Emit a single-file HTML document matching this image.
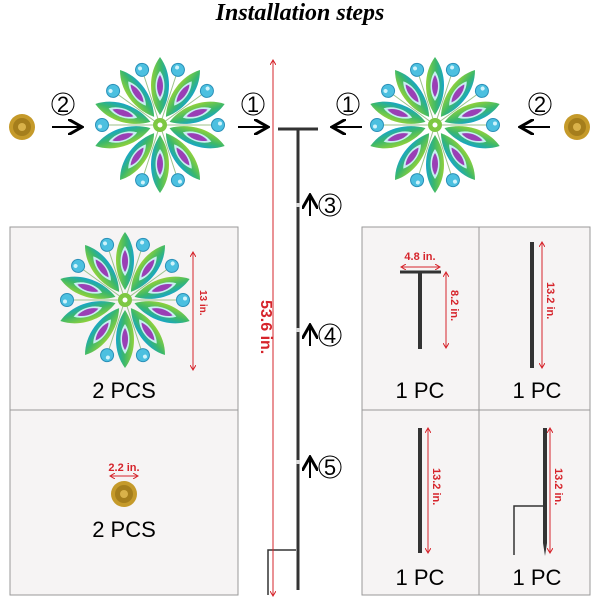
<!DOCTYPE html>
<html><head><style>
body{margin:0;background:#fff}
svg{display:block}
text{font-family:"Liberation Sans",sans-serif}
.red{fill:#d6242b;font-weight:bold}
</style></head><body>
<svg width="600" height="600" viewBox="0 0 600 600">
<defs>
<linearGradient id="pg" x1="0" y1="0" x2="1" y2="0">
<stop offset="0" stop-color="#8fd13c"/><stop offset="0.55" stop-color="#3cb86a"/><stop offset="1" stop-color="#18a6c6"/>
</linearGradient>
<g id="petal">
<path d="M0,-10 C12,-28 12,-52 0,-68 C-12,-52 -12,-28 0,-10Z" fill="url(#pg)"/>
<path d="M0,-24 C6,-32 6,-46 0,-54 C-6,-46 -6,-32 0,-24Z" fill="#c9eef3"/>
<path d="M0,-28 C4,-34 4,-44 0,-50 C-4,-44 -4,-34 0,-28Z" fill="#9a3fb5"/>
</g>
<g id="gem"><line x1="0" y1="0" x2="0" y2="-54" stroke="#9cc28a" stroke-width="1"/><circle cx="0" cy="-58" r="6.5" fill="#4cc0e0" stroke="#2a90b8" stroke-width="1"/><circle cx="-1.5" cy="-60" r="2" fill="#cff3fb"/></g>
<g id="flower">
<use href="#gem" transform="rotate(18)"/><use href="#gem" transform="rotate(54)"/><use href="#gem" transform="rotate(90)"/><use href="#gem" transform="rotate(162)"/><use href="#gem" transform="rotate(198)"/><use href="#gem" transform="rotate(270)"/><use href="#gem" transform="rotate(306)"/><use href="#gem" transform="rotate(-18)"/>
<use href="#petal" transform="rotate(0)"/><use href="#petal" transform="rotate(36)"/><use href="#petal" transform="rotate(72)"/><use href="#petal" transform="rotate(108)"/><use href="#petal" transform="rotate(144)"/><use href="#petal" transform="rotate(180)"/><use href="#petal" transform="rotate(216)"/><use href="#petal" transform="rotate(252)"/><use href="#petal" transform="rotate(288)"/><use href="#petal" transform="rotate(324)"/>
<circle r="7" fill="#7ec842"/><circle r="2.5" fill="#fff"/>
</g>
<g id="cap"><circle r="13" fill="#c59a2a"/><circle r="9" fill="#a57e1c"/><circle r="4" fill="#d9b24a"/></g>
<marker id="ar" markerWidth="8" markerHeight="8" refX="6" refY="4" orient="auto"><path d="M0,0 L7,4 L0,8" fill="none" stroke="#000" stroke-width="1.5"/></marker>
<marker id="rd" markerWidth="6" markerHeight="6" refX="5" refY="3" orient="auto-start-reverse"><path d="M0,0 L5,3 L0,6" fill="none" stroke="#d6242b" stroke-width="1"/></marker>
</defs>
<text x="300" y="20" text-anchor="middle" font-style="italic" font-weight="bold" font-size="24" style="font-family:'Liberation Serif',serif">Installation steps</text>

<rect x="10" y="227" width="228" height="368" fill="#f6f4f4" stroke="#999"/>
<line x1="10" y1="410" x2="238" y2="410" stroke="#999"/>
<rect x="362" y="227" width="228" height="368" fill="#f6f4f4" stroke="#999"/>
<line x1="362" y1="410" x2="590" y2="410" stroke="#999"/>
<line x1="479" y1="227" x2="479" y2="595" stroke="#999"/>

<use href="#cap" transform="translate(22,127)"/>
<use href="#flower" transform="translate(160,125)"/>
<use href="#flower" transform="translate(435,125)"/>
<use href="#cap" transform="translate(577,127)"/>
<g font-size="22">
<circle cx="63" cy="104" r="11" fill="none" stroke="#000"/><text x="63" y="112" text-anchor="middle">2</text>
<circle cx="253" cy="104" r="11" fill="none" stroke="#000"/><text x="253" y="112" text-anchor="middle">1</text>
<circle cx="348" cy="104" r="11" fill="none" stroke="#000"/><text x="348" y="112" text-anchor="middle">1</text>
<circle cx="540" cy="104" r="11" fill="none" stroke="#000"/><text x="540" y="112" text-anchor="middle">2</text>
</g>
<g stroke="#000" stroke-width="2">
<line x1="52" y1="127" x2="80" y2="127" marker-end="url(#ar)"/>
<line x1="238" y1="127" x2="266" y2="127" marker-end="url(#ar)"/>
<line x1="362" y1="127" x2="334" y2="127" marker-end="url(#ar)"/>
<line x1="550" y1="127" x2="522" y2="127" marker-end="url(#ar)"/>
<line x1="310" y1="216" x2="310" y2="197" marker-end="url(#ar)"/>
<line x1="310" y1="346" x2="310" y2="327" marker-end="url(#ar)"/>
<line x1="310" y1="478" x2="310" y2="459" marker-end="url(#ar)"/>
</g>

<line x1="278" y1="129" x2="318" y2="129" stroke="#333" stroke-width="3"/>
<line x1="298" y1="129" x2="298" y2="590" stroke="#333" stroke-width="3"/>
<g fill="#ddd"><rect x="296" y="203" width="4" height="4"/><rect x="296" y="328" width="4" height="4"/><rect x="296" y="460" width="4" height="4"/></g>
<polyline points="268,595 268,550 296,550" fill="none" stroke="#333" stroke-width="1.5"/>
<line x1="273" y1="60" x2="273" y2="596" stroke="#d6242b" stroke-width="1" marker-start="url(#rd)" marker-end="url(#rd)"/>
<text class="red" font-size="16" transform="translate(261,300) rotate(90)">53.6 in.</text>
<g font-size="22">
<circle cx="330" cy="205" r="11" fill="none" stroke="#000"/><text x="330" y="213" text-anchor="middle">3</text>
<circle cx="330" cy="335" r="11" fill="none" stroke="#000"/><text x="330" y="343" text-anchor="middle">4</text>
<circle cx="330" cy="467" r="11" fill="none" stroke="#000"/><text x="330" y="475" text-anchor="middle">5</text>
</g>

<use href="#flower" transform="translate(125,300)"/>
<line x1="193" y1="252" x2="193" y2="370" stroke="#d6242b" marker-start="url(#rd)" marker-end="url(#rd)"/>
<text class="red" font-size="10" transform="translate(200,290) rotate(90)">13 in.</text>
<text x="124" y="398" font-size="22" text-anchor="middle">2 PCS</text>
<text class="red" x="124" y="471" font-size="11" text-anchor="middle">2.2 in.</text>
<line x1="110" y1="476" x2="138" y2="476" stroke="#d6242b" marker-start="url(#rd)" marker-end="url(#rd)"/>
<use href="#cap" transform="translate(124,494)"/>
<text x="124" y="537" font-size="22" text-anchor="middle">2 PCS</text>

<text class="red" x="420" y="260" font-size="11" text-anchor="middle">4.8 in.</text>
<line x1="401" y1="267" x2="440" y2="267" stroke="#d6242b" marker-start="url(#rd)" marker-end="url(#rd)"/>
<line x1="400" y1="272" x2="441" y2="272" stroke="#333" stroke-width="3"/>
<line x1="420" y1="272" x2="420" y2="349" stroke="#333" stroke-width="4"/>
<line x1="446" y1="272" x2="446" y2="348" stroke="#d6242b" marker-start="url(#rd)" marker-end="url(#rd)"/>
<text class="red" font-size="11" transform="translate(451,290) rotate(90)">8.2 in.</text>
<text x="420" y="398" font-size="22" text-anchor="middle">1 PC</text>

<line x1="532" y1="242" x2="532" y2="368" stroke="#333" stroke-width="4"/>
<line x1="542" y1="242" x2="542" y2="368" stroke="#d6242b" marker-start="url(#rd)" marker-end="url(#rd)"/>
<text class="red" font-size="11" transform="translate(547,282) rotate(90)">13.2 in.</text>
<text x="537" y="398" font-size="22" text-anchor="middle">1 PC</text>

<line x1="420" y1="428" x2="420" y2="553" stroke="#333" stroke-width="4"/>
<line x1="428" y1="428" x2="428" y2="553" stroke="#d6242b" marker-start="url(#rd)" marker-end="url(#rd)"/>
<text class="red" font-size="11" transform="translate(433,468) rotate(90)">13.2 in.</text>
<text x="420" y="585" font-size="22" text-anchor="middle">1 PC</text>

<path d="M543,428 L543,543 L545,556 L547,543 L547,428Z" fill="#333"/>
<polyline points="514,555 514,506 543,506" fill="none" stroke="#333" stroke-width="1.5"/>
<line x1="550" y1="428" x2="550" y2="553" stroke="#d6242b" marker-start="url(#rd)" marker-end="url(#rd)"/>
<text class="red" font-size="11" transform="translate(555,468) rotate(90)">13.2 in.</text>
<text x="537" y="585" font-size="22" text-anchor="middle">1 PC</text>
</svg>
</body></html>
